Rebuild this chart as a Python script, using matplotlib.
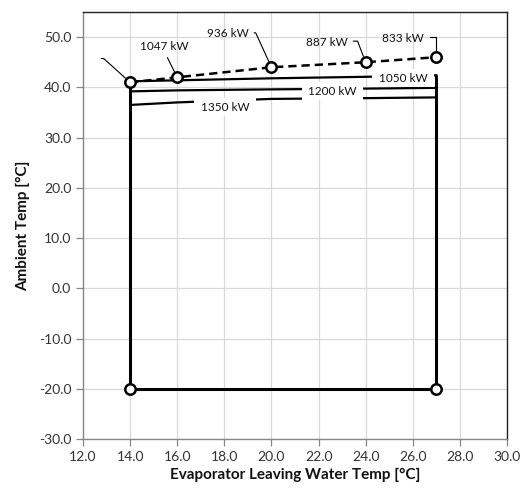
import matplotlib
matplotlib.use('Agg')
from matplotlib import pyplot as plt

plt.rcParams['font.family'] = ['Lato', 'DejaVu Sans']

# leaving water temp points along the envelope
lwt = [14, 16, 20, 24, 27]

# max ambient (dashed top limit) and capacity at each point
amb_max = [41, 42, 44, 45, 46]
cap_max = ['', '1047 kW', '936 kW', '887 kW', '833 kW']

# constant capacity lines
cap_names = ['1050 kW', '1200 kW', '1350 kW']
amb_1050 = [41.2, 41.4, 41.8, 42.1, 42.4]
amb_1200 = [39.2, 39.4, 39.6, 39.75, 39.9]
amb_1350 = [36.5, 37.0, 37.7, 37.85, 38.0]

# operating envelope outline
env_x = [14, 14, 27, 27]
env_y = [41, -20, -20, 42.4]

xticks = [12, 14, 16, 18, 20, 22, 24, 26, 28, 30]
yticks = [-30, -20, -10, 0, 10, 20, 30, 40, 50]

f1 = plt.figure(figsize=(5.22, 4.94), dpi=100)
ax1 = f1.add_axes([83/522, 1 - 439/494, 424/522, 427/494])

ax1.set_xlim((12, 30))
ax1.set_ylim((-30, 55))
ax1.set_xticks(xticks)
ax1.set_yticks(yticks)
ax1.set_xticklabels(['%.1f' % t for t in xticks], fontsize=10, color='#333333')
ax1.set_yticklabels(['%.1f' % t for t in yticks], fontsize=10, color='#333333')
ax1.grid(True, color='#d9d9d9', lw=0.9)
ax1.set_axisbelow(True)
ax1.tick_params(direction='out', length=5, width=0.9, color='#868686')

for s in ('left', 'bottom'):
    ax1.spines[s].set_color('#868686')
for s in ('top', 'right'):
    ax1.spines[s].set_color('#222222')
for s in ax1.spines.values():
    s.set_linewidth(1.0)

# envelope
ax1.plot(env_x, env_y, color='k', lw=2.2, solid_capstyle='butt',
    marker='o', markevery=[1, 2], ms=7.5, mfc='white', mec='k', mew=1.8, zorder=3)

# capacity lines
for yy in (amb_1050, amb_1200, amb_1350):
    ax1.plot(lwt, yy, color='k', lw=1.6, zorder=2)

# max ambient limit
ax1.plot(lwt, amb_max, color='k', lw=1.8, dashes=(3.3, 2.0),
    marker='o', ms=7.5, mfc='white', mec='k', mew=1.8, zorder=5)

# capacity labels on the lines
line_lab_pos = [(25.58, 41.8), (22.6, 39.26), (18.03, 36.08)]
for name, (tx, ty) in zip(cap_names, line_lab_pos):
    ax1.text(tx, ty, ' ' + name + ' ', fontsize=8.5, ha='center', va='center',
        color='#111111', zorder=4,
        bbox=dict(boxstyle='square,pad=0.3', fc='white', ec='none'))

# labels on the max ambient points, with leader lines
lab_off = [(-22.8, 17.1), (-9, 22), (-31.5, 24), (-28, 14.4), (-23.8, 13.7)]
lab_ang = [138, None, 114.6, 111, 90]
for x, y, txt, off, ang in zip(lwt, amb_max, cap_max, lab_off, lab_ang):
    if ang is None:
        conn = 'arc3'
        rp = (0.5, 0.0)
    else:
        conn = 'angle,angleA=0,angleB=%g,rad=0' % ang
        rp = (1.0, 0.6)
    ax1.annotate(txt, xy=(x, y), xytext=off, textcoords='offset points',
        fontsize=8.5, ha='center', va='center', color='#111111', zorder=6,
        arrowprops=dict(arrowstyle='-', color='k', lw=0.8, relpos=rp,
            shrinkA=2, shrinkB=4.5, connectionstyle=conn))

ax1.set_xlabel(u'Evaporator Leaving Water Temp [°C]', fontsize=11,
    fontweight='bold', color='#111111', labelpad=4)
ax1.set_ylabel(u'Ambient Temp [°C]', fontsize=11,
    fontweight='bold', color='#111111', labelpad=6)

f1.savefig('out.png', dpi=100)
